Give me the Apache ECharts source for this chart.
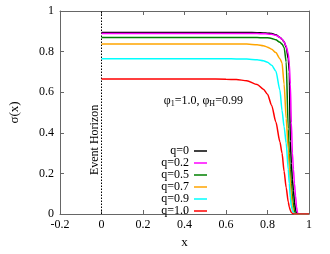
<!DOCTYPE html>
<html><head><meta charset="utf-8">
<script src="https://cdn.jsdelivr.net/npm/echarts@6/dist/echarts.min.js"></script>
<style>html,body{margin:0;padding:0;background:#fff}#c{width:330px;height:254px}</style>
</head><body><div id="c"></div>
<script>
// shared x grid
const xs  = [0, 0.5, 0.6, 0.65, 0.7, 0.75, 0.78, 0.8, 0.82, 0.84, 0.86, 0.87, 0.88, 0.89, 0.9, 0.905, 0.91, 0.915, 0.92, 0.925, 0.93, 0.935, 0.94, 0.945, 0.95, 1.0];
const q00 = [0.894,0.894,0.894,0.894,0.894,0.893,0.892,0.891,0.889,0.883,0.870,0.861,0.848,0.822,0.765,0.70,0.36,0.25,0.17,0.115,0.06,0.02,0.004,0,0,0];
const q02 = [0.889,0.889,0.889,0.889,0.889,0.889,0.888,0.887,0.885,0.880,0.869,0.861,0.849,0.826,0.79,0.74,0.64,0.45,0.30,0.22,0.15,0.09,0.035,0.005,0,0];
const q05 = [0.870,0.870,0.870,0.870,0.870,0.869,0.868,0.868,0.865,0.858,0.846,0.837,0.82,0.75,0.42,0.30,0.22,0.15,0.09,0.045,0.012,0,0,0,0,0];
const q07 = [0.838,0.838,0.838,0.838,0.837,0.834,0.829,0.822,0.812,0.795,0.765,0.745,0.64,0.47,0.32,0.23,0.155,0.09,0.04,0.01,0,0,0,0,0,0];
const q09 = [0.765,0.765,0.765,0.764,0.763,0.76,0.755,0.748,0.733,0.705,0.61,0.51,0.43,0.35,0.22,0.15,0.08,0.04,0.018,0.006,0,0,0,0,0,0];
const q10 = [0.665,0.665,0.664,0.662,0.657,0.638,0.615,0.59,0.535,0.455,0.355,0.30,0.21,0.13,0.06,0.035,0.018,0.008,0.003,0,0,0,0,0,0,0];
const seriesNames = ['q=0','q=0.2','q=0.5','q=0.7','q=0.9','q=1.0'];
const seriesVals  = [q00, q02, q05, q07, q09, q10];
const colors = ['#000000','#ff00ff','#008000','#ffa500','#00ffff','#ff0000'];
const horizonX = [0, 0];
const horizonY = [0, 1];
const xMin = -0.2, xMax = 1, xStep = 0.2;
const yMin = 0, yMax = 1, yStep = 0.2;

const font = 'Liberation Serif';
const axisGray = '#666';
const chart = echarts.init(document.getElementById('c'));

function fmt(v){ return String(+(+v).toFixed(1)); }

const baseAxis = {
  type: 'value',
  splitLine: {show: false},
  axisLine: {show: true, onZero: false, lineStyle: {color: axisGray, width: 1}},
  axisTick: {show: true, inside: true, length: 4, lineStyle: {color: axisGray}},
};

const series = seriesNames.map((n, i) => ({
  name: n, type: 'line', xAxisIndex: 0, yAxisIndex: 0,
  data: xs.map((x, j) => [x, seriesVals[i][j]]),
  showSymbol: false, symbol: 'none', smooth: 0.25, smoothMonotone: 'x',
  lineStyle: {color: colors[i], width: 1.5}, itemStyle: {color: colors[i]},
  z: 3 + i, animation: false
}));
series.push({
  name: 'horizon', type: 'line', xAxisIndex: 0, yAxisIndex: 0,
  data: horizonX.map((x, j) => [x, horizonY[j]]),
  showSymbol: false, symbol: 'none',
  lineStyle: {color: '#000', width: 1, type: [1.5, 1.5]}, z: 2, animation: false
});

chart.setOption({
  animation: false,
  backgroundColor: '#fff',
  grid: {left: 56, right: 21, top: 11, bottom: 37.5, containLabel: false},
  xAxis: [
    Object.assign({}, baseAxis, {position: 'bottom', min: xMin, max: xMax, interval: xStep,
      name: 'x', nameLocation: 'middle', nameGap: 22,
      nameTextStyle: {fontFamily: font, fontSize: 13, color: '#000'},
      axisLabel: {formatter: fmt, fontFamily: font, fontSize: 12, color: '#000', margin: 5}}),
    Object.assign({}, baseAxis, {position: 'top', min: xMin, max: xMax, interval: xStep,
      axisLabel: {show: false}})
  ],
  yAxis: [
    Object.assign({}, baseAxis, {position: 'left', min: yMin, max: yMax, interval: yStep,
      name: 'σ(x)', nameLocation: 'middle', nameGap: 39, nameRotate: 90,
      nameTextStyle: {fontFamily: font, fontSize: 13, color: '#000'},
      axisLabel: {formatter: fmt, fontFamily: font, fontSize: 12, color: '#000', margin: 6}}),
    Object.assign({}, baseAxis, {position: 'right', min: yMin, max: yMax, interval: yStep,
      axisLabel: {show: false}})
  ],
  legend: {
    data: seriesNames, orient: 'vertical', align: 'right',
    right: 123, top: 145, itemGap: 0, itemWidth: 13, itemHeight: 1.5, icon: 'rect',
    padding: 0,
    textStyle: {fontFamily: font, fontSize: 12, color: '#000', lineHeight: 11.4, padding: [0, 0, 0, 0]}
  },
  series: series
});

const hp = chart.convertToPixel({xAxisIndex: 0, yAxisIndex: 0}, [0, 0.365]);
const lp = chart.convertToPixel({xAxisIndex: 0, yAxisIndex: 0}, [0.3, 0.55]);
chart.setOption({
  graphic: [
    {type: 'text', x: hp[0] - 6.5, y: hp[1], rotation: Math.PI / 2,
      style: {text: 'Event Horizon', fontFamily: font, fontSize: 12, fill: '#000',
        align: 'center', verticalAlign: 'middle'}},
    {type: 'text', x: lp[0], y: 101,
      style: {
        text: '{a|φ}{s|1}{a|=1.0, φ}{s|H}{a|=0.99}',
        fontFamily: font, fontSize: 12, fill: '#000', verticalAlign: 'middle',
        rich: {
          a: {fontFamily: font, fontSize: 12, fill: '#000'},
          s: {fontFamily: font, fontSize: 8, fill: '#000', padding: [6, 0, 0, 0]}
        }
      }}
  ]
});
</script></body></html>
